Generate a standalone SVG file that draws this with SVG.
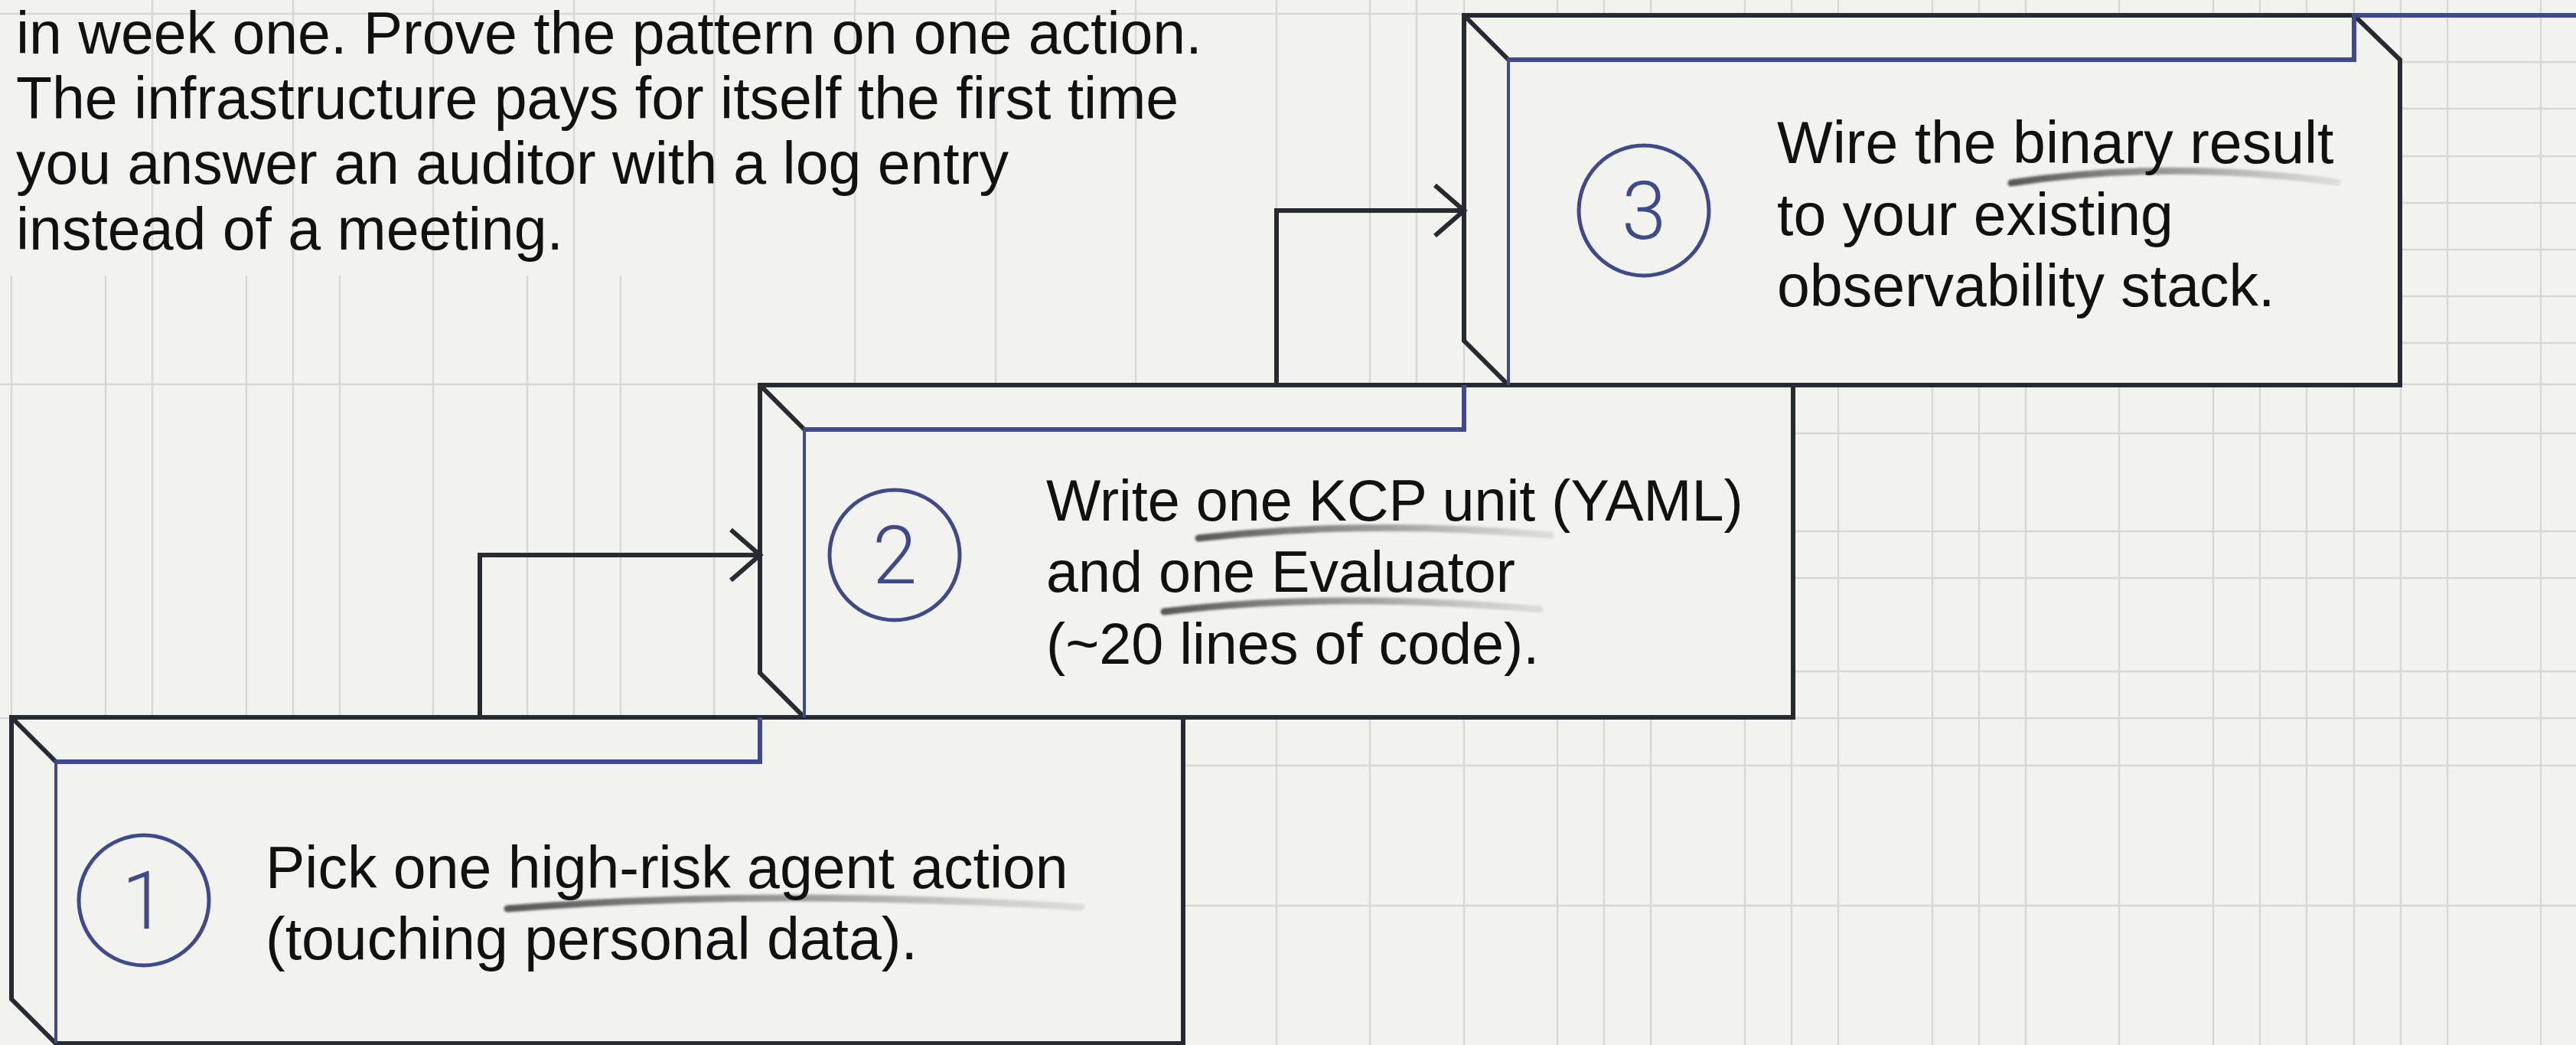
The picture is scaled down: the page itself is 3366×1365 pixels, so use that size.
<svg xmlns="http://www.w3.org/2000/svg" width="3366" height="1365" viewBox="0 0 3366 1365">
  <style>
    .paper{fill:#f2f2ee}
    .grid line{stroke:#d8d8d4;stroke-width:2.5}
    .shell{fill:#f2f2ee;stroke:#262b31;stroke-width:6;stroke-linejoin:miter}
    .ink{fill:none;stroke:#262b31;stroke-width:6}
    .face-side{fill:none;stroke:#3e4a8c;stroke-width:4}
    .face-top{fill:none;stroke:#3e4a8c;stroke-width:6;stroke-linejoin:miter}
    .badge{fill:none;stroke:#3e4a8c;stroke-width:5}
    .digit{font-family:Roboto,"Liberation Sans",Arial,sans-serif;font-weight:300;font-size:105px;fill:#3e4a8c;text-anchor:middle}
    .txt{font-family:"Liberation Sans",Arial,Helvetica,sans-serif;font-size:77px;fill:#111111}
    .hl{fill:none;stroke:url(#marker-fade);stroke-width:9;stroke-linecap:round;filter:url(#soft)}
    .conn{fill:none;stroke:#262b31;stroke-width:6;marker-end:url(#chevron)}
  </style>
  <defs>
    <linearGradient id="marker-fade" x1="0" y1="0" x2="1" y2="0">
      <stop offset="0" stop-color="#3c3c3c" stop-opacity="0.85"/>
      <stop offset="0.55" stop-color="#6a6a6a" stop-opacity="0.6"/>
      <stop offset="1" stop-color="#a8a8a8" stop-opacity="0.3"/>
    </linearGradient>
    <filter id="soft" filterUnits="userSpaceOnUse" x="0" y="0" width="3366" height="1365">
      <feGaussianBlur stdDeviation="1.6"/>
    </filter>
    <marker id="chevron" markerUnits="userSpaceOnUse" viewBox="-50 -45 60 90" markerWidth="60" markerHeight="90" refX="0" refY="0" orient="auto">
      <path d="M-38,-33 L0,0 L-38,33" fill="none" stroke="#262b31" stroke-width="6"/>
    </marker>
  </defs>

  <!-- paper -->
  <rect class="paper" x="0" y="0" width="3366" height="1365"/>

  <!-- squared background -->
  <g class="grid">
    <!-- upper band, left -->
    <line x1="199" y1="0" x2="199" y2="360"/>
    <line x1="383" y1="0" x2="383" y2="360"/>
    <line x1="566" y1="0" x2="566" y2="360"/>
    <line x1="750" y1="0" x2="750" y2="360"/>
    <!-- lower band, left -->
    <line x1="15" y1="360" x2="15" y2="940"/>
    <line x1="138" y1="360" x2="138" y2="940"/>
    <line x1="199" y1="360" x2="199" y2="940"/>
    <line x1="322" y1="360" x2="322" y2="940"/>
    <line x1="383" y1="360" x2="383" y2="940"/>
    <line x1="444" y1="360" x2="444" y2="940"/>
    <line x1="566" y1="360" x2="566" y2="940"/>
    <line x1="689" y1="360" x2="689" y2="940"/>
    <line x1="750" y1="360" x2="750" y2="940"/>
    <line x1="811" y1="360" x2="811" y2="940"/>
    <!-- full columns -->
    <line x1="933" y1="0" x2="933" y2="940"/>
    <line x1="1117" y1="0" x2="1117" y2="505"/>
    <line x1="1301" y1="0" x2="1301" y2="505"/>
    <line x1="1484" y1="0" x2="1484" y2="505"/>
    <line x1="1668" y1="0" x2="1668" y2="1365"/>
    <line x1="1790" y1="0" x2="1790" y2="1365"/>
    <line x1="1851" y1="0" x2="1851" y2="505"/>
    <line x1="1913" y1="0" x2="1913" y2="1365"/>
    <line x1="2035" y1="0" x2="2035" y2="1365"/>
    <line x1="2096" y1="0" x2="2096" y2="1365"/>
    <line x1="2157" y1="0" x2="2157" y2="1365"/>
    <line x1="2280" y1="0" x2="2280" y2="1365"/>
    <line x1="2341" y1="0" x2="2341" y2="1365"/>
    <line x1="2402" y1="0" x2="2402" y2="1365"/>
    <line x1="2525" y1="0" x2="2525" y2="1365"/>
    <line x1="2586" y1="0" x2="2586" y2="1365"/>
    <line x1="2647" y1="0" x2="2647" y2="1365"/>
    <line x1="2769" y1="0" x2="2769" y2="1365"/>
    <line x1="2892" y1="0" x2="2892" y2="1365"/>
    <line x1="2953" y1="0" x2="2953" y2="1365"/>
    <line x1="3014" y1="0" x2="3014" y2="1365"/>
    <line x1="3076" y1="0" x2="3076" y2="1365"/>
    <line x1="3137" y1="0" x2="3137" y2="1365"/>
    <line x1="3198" y1="0" x2="3198" y2="1365"/>
    <line x1="3320" y1="0" x2="3320" y2="1365"/>
    <!-- rows -->
    <line x1="0" y1="18" x2="3366" y2="18"/>
    <line x1="0" y1="502" x2="3366" y2="502"/>
    <line x1="0" y1="938" x2="3366" y2="938"/>
    <line x1="3136" y1="81" x2="3366" y2="81"/>
    <line x1="3136" y1="142" x2="3366" y2="142"/>
    <line x1="3136" y1="204" x2="3366" y2="204"/>
    <line x1="3136" y1="265" x2="3366" y2="265"/>
    <line x1="3136" y1="326" x2="3366" y2="326"/>
    <line x1="3136" y1="387" x2="3366" y2="387"/>
    <line x1="3136" y1="448" x2="3366" y2="448"/>
    <line x1="2343" y1="566" x2="3366" y2="566"/>
    <line x1="2343" y1="694" x2="3366" y2="694"/>
    <line x1="2343" y1="755" x2="3366" y2="755"/>
    <line x1="2343" y1="877" x2="3366" y2="877"/>
    <line x1="1546" y1="1000" x2="3366" y2="1000"/>
    <line x1="1546" y1="1183" x2="3366" y2="1183"/>
  </g>

  <!-- intro paragraph -->
  <g id="intro" class="txt">
    <text x="21" y="70">in week one. Prove the pattern on one action.</text>
    <text x="21" y="155">The infrastructure pays for itself the first time</text>
    <text x="21" y="240">you answer an auditor with a log entry</text>
    <text x="21" y="326">instead of a meeting.</text>
  </g>

  <!-- step 1 -->
  <g id="step1">
    <path class="shell" d="M15,937 H1546 V1363 H73 L15,1305 Z"/>
    <path class="ink" d="M15,937 L73,995"/>
    <path class="face-side" d="M73,1363 V995"/>
    <path class="face-top" d="M71,995 H993 V937"/>
    <circle class="badge" cx="188" cy="1176" r="85"/>
    <text class="digit" x="188" y="1213">1</text>
    <path class="hl" d="M663,1187 Q1000,1160 1413,1185"/>
    <text class="txt" x="347" y="1160">Pick one high-risk agent action</text>
    <text class="txt" x="347" y="1253">(touching personal data).</text>
  </g>

  <!-- step 2 -->
  <g id="step2">
    <path class="shell" d="M993,503 H2343 V937 H1051 L993,879 Z"/>
    <path class="ink" d="M993,503 L1051,561"/>
    <path class="face-side" d="M1051,937 V561"/>
    <path class="face-top" d="M1049,561 H1913 V503"/>
    <circle class="badge" cx="1169" cy="725" r="85"/>
    <text class="digit" x="1169" y="762">2</text>
    <path class="hl" d="M1566,703 Q1790,678 2026,699"/>
    <path class="hl" d="M1521,799 Q1740,772 2012,796"/>
    <g class="txt" style="font-size:75.5px">
      <text x="1367" y="680">Write one KCP unit (YAML)</text>
      <text x="1367" y="773">and one Evaluator</text>
      <text x="1367" y="867">(~20 lines of code).</text>
    </g>
  </g>

  <!-- step 3 -->
  <g id="step3">
    <path class="shell" d="M1913,20 H3076 L3136,78 V503 H1971 L1913,445 Z"/>
    <path class="ink" d="M1913,20 L1971,78"/>
    <path class="face-side" d="M1971,503 V78"/>
    <path class="face-top" d="M1969,78 H3076 V20 H3366"/>
    <circle class="badge" cx="2148" cy="275" r="85"/>
    <text class="digit" x="2148" y="312">3</text>
    <path class="hl" d="M2628,239 Q2830,208 3054,238"/>
    <text class="txt" x="2322" y="213">Wire the binary result</text>
    <text class="txt" x="2322" y="307">to your existing</text>
    <text class="txt" x="2322" y="400">observability stack.</text>
  </g>

  <!-- connectors -->
  <g id="connectors">
    <path class="conn" d="M627,937 V725 H993"/>
    <path class="conn" d="M1668,503 V275 H1913"/>
  </g>
</svg>
